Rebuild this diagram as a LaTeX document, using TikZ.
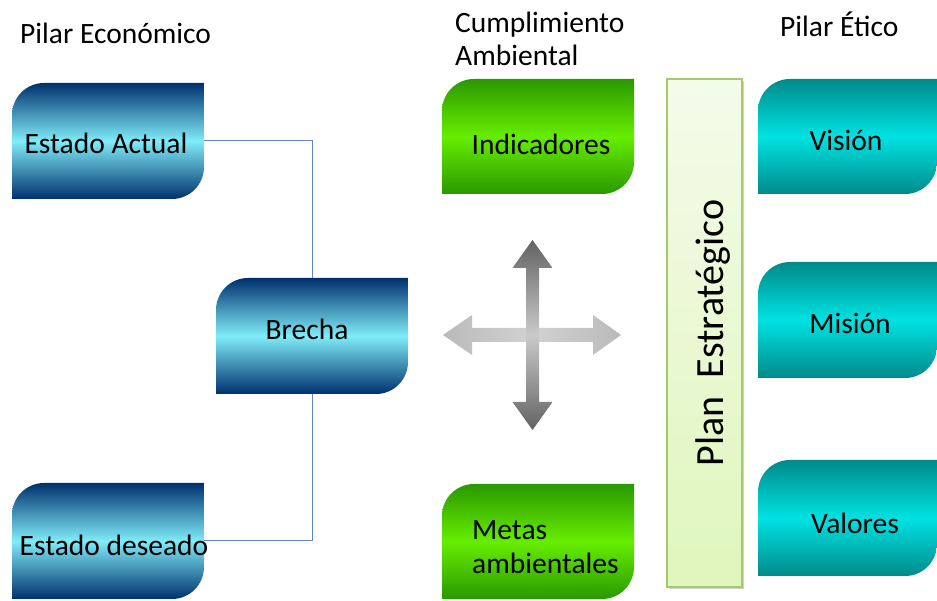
\documentclass[tikz,border=0pt]{standalone}
\usepackage{fontspec}
\setmainfont{Carlito}
\begin{document}
\begin{tikzpicture}[x=1pt,y=1pt,
  bluesh/.style={top color=bluedark,bottom color=bluedark,middle color=bluelight},
  greensh/.style={top color=greendark,bottom color=greendark,middle color=greenlight},
  tealsh/.style={top color=tealdark,bottom color=tealdark,middle color=teallight},
  boxarea/.style={inner sep=0pt,draw=none},
  boxtext/.style={inner sep=0pt,anchor=base,font=\fontsize{29.5}{34}\selectfont,align=center},
  title/.style={anchor=base west,inner sep=0pt,font=\fontsize{29.5}{33}\selectfont,align=left},
  link/.style={draw=linkblue,line width=1pt}]
\definecolor{bluedark}{HTML}{00306E}
\definecolor{bluelight}{HTML}{80ECF8}
\definecolor{greendark}{HTML}{2A9800}
\definecolor{greenlight}{HTML}{66EE00}
\definecolor{tealdark}{HTML}{008A8A}
\definecolor{teallight}{HTML}{00E2E2}
\definecolor{linkblue}{HTML}{5B87C5}
\definecolor{planborder}{HTML}{A6C96A}
\definecolor{plantop}{HTML}{F4FBEA}
\definecolor{planbot}{HTML}{DFF6BC}
\definecolor{arrdark}{HTML}{626262}
\definecolor{arrlight}{HTML}{CACACA}
% #1 name, #2 x1, #3 y1 (from top), #4 x2, #5 y2 (from top), #6 style
\newcommand\rdbox[6]{%
  \path[#6] (#2,{601-#5}) -- (#2,{601-#3-32}) arc[start angle=180,end angle=90,radius=32pt]
     -- (#4,{601-#3}) -- (#4,{601-#5+32}) arc[start angle=0,end angle=-90,radius=32pt] -- cycle;
  \node[boxarea,minimum width={#4-#2},minimum height={#5-#3}] (#1) at ({(#2+#4)/2},{601-(#3+#5)/2}) {};}
\useasboundingbox (0,0) rectangle (937,601);
% titles
\node[title] (t1) at (20,557) {Pilar Económico};
\node[title] (t2) at (455,535) {Cumplimiento\\Ambiental};
\node[title] (t3) at (780,564) {Pilar Ético};
% economic pillar
\rdbox{ea}{12}{83}{204}{199}{bluesh}
\rdbox{br}{216}{278}{408}{394}{bluesh}
\rdbox{ed}{12}{483}{204}{599}{bluesh}
\node[boxtext] (eat) at (106,447) {Estado Actual};
\node[boxtext] (brt) at (307,261) {Brecha};
\node[boxtext] (edt) at (114,45) {Estado deseado};
\draw[link] (ea.east) -| (br.north);
\draw[link] (ed.east) -| (br.south);
% environmental
\rdbox{ind}{442}{79}{634}{194}{greensh}
\rdbox{met}{442}{484}{634}{599}{greensh}
\node[boxtext] (indt) at (541,446) {Indicadores};
\node[boxtext,align=left,anchor=base west] (mett) at (472,27) {Metas\\ambientales};
% four-way arrow
\path[left color=arrlight!92!black,right color=arrlight!92!black,middle color=arrlight!85!white]
  (443,266) -- (472,286) -- (472,273) -- (593,273) -- (593,286) -- (621,266)
  -- (593,246) -- (593,259) -- (472,259) -- (472,246) -- cycle;
\path[top color=arrdark,bottom color=arrdark,middle color=arrlight]
  (532.5,361) -- (552.5,333) -- (539,333) -- (539,199) -- (552.5,199) -- (532.5,171)
  -- (512.5,199) -- (526,199) -- (526,333) -- (512.5,333) -- cycle;
% plan
\fill[black!18] (669,12) rectangle (744,520);
\path[top color=plantop,bottom color=planbot,draw=planborder,line width=1.5pt]
  (667,14) rectangle (742,522);
\node[rotate=90,anchor=base,inner sep=0pt,font=\fontsize{40}{44}\selectfont] (plan) at (723,268) {Plan\ \ Estratégico};
% ethical
\rdbox{vis}{758}{79}{937}{194}{tealsh}
\rdbox{mis}{758}{262}{937}{378}{tealsh}
\rdbox{val}{758}{460}{937}{576}{tealsh}
\node[boxtext] (vist) at (846,450) {Visión};
\node[boxtext] (mist) at (850,267) {Misión};
\node[boxtext] (valt) at (855,67) {Valores};
\end{tikzpicture}
\end{document}
